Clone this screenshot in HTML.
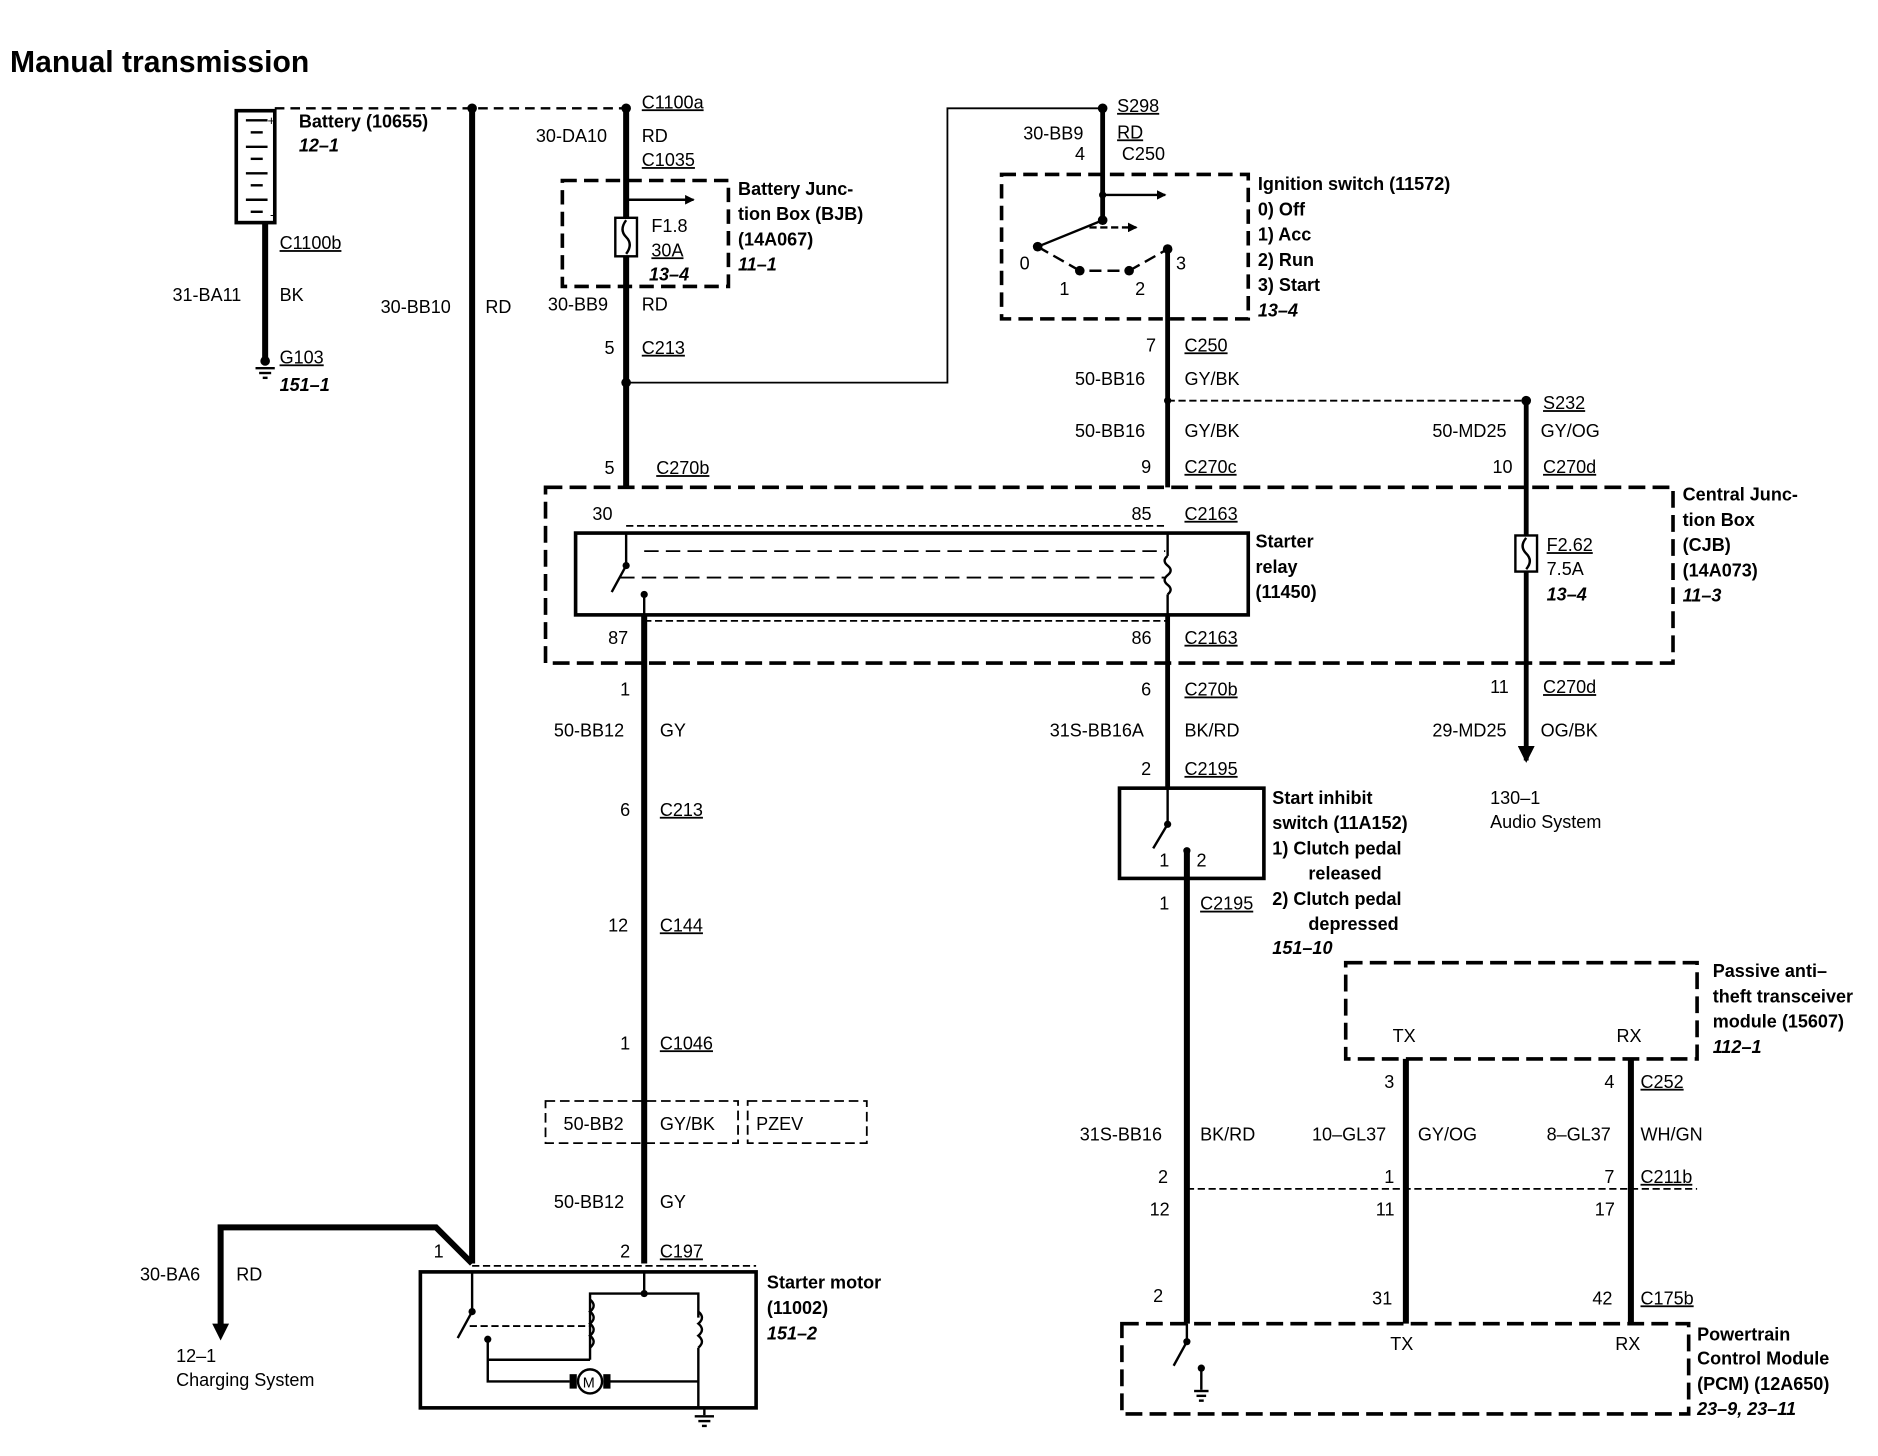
<!DOCTYPE html>
<html><head><meta charset="utf-8">
<style>
html,body{margin:0;padding:0;background:#fff;}
svg{display:block;}
text{font-family:"Liberation Sans",Arial,sans-serif;font-size:15px;fill:#000;}
.b{font-weight:bold;}
.i{font-weight:bold;font-style:italic;}
.t{font-weight:bold;font-size:25px;}
.u{text-decoration:underline;}
</style></head>
<body>
<svg width="1878" height="1456" viewBox="0 0 1560 1210" xmlns="http://www.w3.org/2000/svg">
<defs>
<marker id="ar" markerWidth="8" markerHeight="8" refX="7" refY="4" orient="auto" markerUnits="userSpaceOnUse"><path d="M0,0 L8,4 L0,8 z" fill="#000"/></marker>
<marker id="ab" markerWidth="14" markerHeight="14" refX="12" refY="7" orient="auto" markerUnits="userSpaceOnUse"><path d="M0,0 L14,7 L0,14 z" fill="#000"/></marker>
</defs>
<text x="8" y="60" class="t">Manual transmission</text>

<!-- Battery -->
<rect x="196" y="92" width="32" height="93" fill="none" stroke="#000" stroke-width="3"/>
<g stroke="#000" stroke-width="2">
<line x1="204" y1="100" x2="222" y2="100"/><line x1="208" y1="110" x2="218" y2="110"/>
<line x1="204" y1="122" x2="222" y2="122"/><line x1="208" y1="132" x2="218" y2="132"/>
<line x1="204" y1="144" x2="222" y2="144"/><line x1="208" y1="154" x2="218" y2="154"/>
<line x1="204" y1="166" x2="222" y2="166"/><line x1="208" y1="176" x2="218" y2="176"/>
</g>
<text x="222" y="104" style="font-size:11px">+</text><text x="224" y="182" style="font-size:11px">-</text>
<text x="248" y="106" class="b">Battery (10655)</text>
<text x="248" y="126" class="i">12–1</text>
<line x1="220" y1="185" x2="220" y2="298" stroke="#000" stroke-width="5"/>
<text x="232" y="207" class="u">C1100b</text>
<text x="143" y="250">31-BA11</text><text x="232" y="250">BK</text>
<circle cx="220" cy="300" r="4"/>
<line x1="212" y1="306" x2="228" y2="306" stroke="#000" stroke-width="2"/>
<line x1="215" y1="310" x2="225" y2="310" stroke="#000" stroke-width="2"/>
<line x1="218" y1="314" x2="222" y2="314" stroke="#000" stroke-width="2"/>
<text x="232" y="302" class="u">G103</text>
<text x="232" y="325" class="i">151–1</text>

<!-- top dashed line -->
<line x1="228" y1="90" x2="520" y2="90" stroke="#000" stroke-width="2" stroke-dasharray="8,5"/>
<circle cx="392" cy="90" r="4"/><circle cx="520" cy="90" r="4"/>
<line x1="392" y1="90" x2="392" y2="1050" stroke="#000" stroke-width="5"/>
<text x="316" y="260">30-BB10</text><text x="403" y="260">RD</text>

<!-- BJB -->
<line x1="520" y1="90" x2="520" y2="405" stroke="#000" stroke-width="5"/>
<text x="533" y="90" class="u">C1100a</text>
<text x="445" y="118">30-DA10</text><text x="533" y="118">RD</text>
<text x="533" y="138" class="u">C1035</text>
<rect x="467" y="150" width="138" height="88" fill="none" stroke="#000" stroke-width="3" stroke-dasharray="12,6"/>
<rect x="511" y="181" width="18" height="32" fill="#fff" stroke="#000" stroke-width="2"/>
<path d="M520,183 q-6,8 0,14 q6,6 0,14" fill="none" stroke="#000" stroke-width="2"/>
<line x1="520" y1="166" x2="576" y2="166" stroke="#000" stroke-width="2" marker-end="url(#ar)"/>
<text x="541" y="193">F1.8</text><text x="541" y="213" class="u">30A</text><text x="539" y="233" class="i">13–4</text>
<text x="613" y="162" class="b">Battery Junc-</text>
<text x="613" y="183" class="b">tion Box (BJB)</text>
<text x="613" y="204" class="b">(14A067)</text>
<text x="613" y="225" class="i">11–1</text>
<text x="455" y="258">30-BB9</text><text x="533" y="258">RD</text>
<text x="502" y="294">5</text><text x="533" y="294" class="u">C213</text>
<circle cx="520" cy="318" r="4"/>
<polyline points="520,318 787,318 787,90 916,90" fill="none" stroke="#000" stroke-width="1.5"/>
<circle cx="916" cy="90" r="4"/>
<text x="928" y="93" class="u">S298</text>
<text x="850" y="116">30-BB9</text><text x="928" y="115" class="u">RD</text>
<text x="893" y="133">4</text><text x="932" y="133">C250</text>

<!-- Ignition -->
<line x1="916" y1="90" x2="916" y2="185" stroke="#000" stroke-width="4"/>
<rect x="832" y="145" width="205" height="120" fill="none" stroke="#000" stroke-width="3" stroke-dasharray="12,6"/>
<line x1="916" y1="162" x2="968" y2="162" stroke="#000" stroke-width="2" marker-end="url(#ar)"/>
<circle cx="916" cy="162" r="3"/><circle cx="916" cy="183" r="4"/>
<line x1="916" y1="183" x2="862" y2="205" stroke="#000" stroke-width="2"/>
<line x1="905" y1="189" x2="944" y2="189" stroke="#000" stroke-width="2" stroke-dasharray="6,3" marker-end="url(#ar)"/>
<circle cx="862" cy="205" r="4"/>
<path d="M862,205 L897,225 M905,225 L930,225 M938,225 L970,207" stroke="#000" stroke-width="2" fill="none" stroke-dasharray="10,5"/>
<circle cx="897" cy="225" r="4"/><circle cx="938" cy="225" r="4"/><circle cx="970" cy="207" r="4"/>
<text x="847" y="224">0</text><text x="880" y="245">1</text><text x="943" y="245">2</text><text x="977" y="224">3</text>
<line x1="970" y1="207" x2="970" y2="405" stroke="#000" stroke-width="4"/>
<text x="1045" y="158" class="b">Ignition switch (11572)</text>
<text x="1045" y="179" class="b">0)   Off</text>
<text x="1045" y="200" class="b">1)   Acc</text>
<text x="1045" y="221" class="b">2)   Run</text>
<text x="1045" y="242" class="b">3)   Start</text>
<text x="1045" y="263" class="i">13–4</text>
<text x="952" y="292">7</text><text x="984" y="292" class="u">C250</text>
<text x="893" y="320">50-BB16</text><text x="984" y="320">GY/BK</text>
<line x1="970" y1="333" x2="1268" y2="333" stroke="#000" stroke-width="1.5" stroke-dasharray="6,3"/>
<circle cx="970" cy="333" r="3"/><circle cx="1268" cy="333" r="4"/>
<text x="1282" y="340" class="u">S232</text>
<text x="893" y="363">50-BB16</text><text x="984" y="363">GY/BK</text>
<text x="1190" y="363">50-MD25</text><text x="1280" y="363">GY/OG</text>
<text x="948" y="393">9</text><text x="984" y="393" class="u">C270c</text>
<text x="1240" y="393">10</text><text x="1282" y="393" class="u">C270d</text>
<line x1="1268" y1="333" x2="1268" y2="445" stroke="#000" stroke-width="4"/>
<line x1="1268" y1="475" x2="1268" y2="632" stroke="#000" stroke-width="4" marker-end="url(#ab)"/>
<rect x="1259" y="445" width="18" height="30" fill="#fff" stroke="#000" stroke-width="2"/>
<path d="M1268,447 q-6,7 0,13 q6,6 0,13" fill="none" stroke="#000" stroke-width="2"/>
<text x="1285" y="458" class="u">F2.62</text><text x="1285" y="478">7.5A</text><text x="1285" y="499" class="i">13–4</text>

<!-- CJB -->
<rect x="453" y="405" width="937" height="146" fill="none" stroke="#000" stroke-width="3" stroke-dasharray="14,6"/>
<text x="1398" y="416" class="b">Central Junc-</text>
<text x="1398" y="437" class="b">tion Box</text>
<text x="1398" y="458" class="b">(CJB)</text>
<text x="1398" y="479" class="b">(14A073)</text>
<text x="1398" y="500" class="i">11–3</text>
<text x="502" y="394">5</text><text x="545" y="394" class="u">C270b</text>
<text x="492" y="432">30</text><text x="940" y="432">85</text><text x="984" y="432" class="u">C2163</text>
<line x1="520" y1="437" x2="970" y2="437" stroke="#000" stroke-width="1.5" stroke-dasharray="6,3"/>
<rect x="478" y="443" width="559" height="68" fill="none" stroke="#000" stroke-width="3"/>
<line x1="520" y1="443" x2="520" y2="470" stroke="#000" stroke-width="2"/>
<line x1="520" y1="470" x2="508" y2="492" stroke="#000" stroke-width="2"/>
<circle cx="520" cy="470" r="3"/><circle cx="535" cy="494" r="3"/>
<line x1="535" y1="494" x2="535" y2="511" stroke="#000" stroke-width="2"/>
<line x1="515" y1="480" x2="968" y2="480" stroke="#000" stroke-width="1.5" stroke-dasharray="12,6"/>
<line x1="535" y1="458" x2="968" y2="458" stroke="#000" stroke-width="1.5" stroke-dasharray="12,6"/>
<line x1="970" y1="443" x2="970" y2="462" stroke="#000" stroke-width="2"/>
<path d="M970,462 q-5,4 0,8 q5,4 0,8 q-5,4 0,8 q5,4 0,8" fill="none" stroke="#000" stroke-width="2"/>
<line x1="970" y1="494" x2="970" y2="511" stroke="#000" stroke-width="2"/>
<text x="1043" y="455" class="b">Starter</text>
<text x="1043" y="476" class="b">relay</text>
<text x="1043" y="497" class="b">(11450)</text>
<line x1="535" y1="516" x2="970" y2="516" stroke="#000" stroke-width="1.5" stroke-dasharray="6,3"/>
<text x="505" y="535">87</text><text x="940" y="535">86</text><text x="984" y="535" class="u">C2163</text>

<!-- left main wire -->
<line x1="535" y1="511" x2="535" y2="1050" stroke="#000" stroke-width="5"/>
<text x="515" y="578">1</text>
<text x="460" y="612">50-BB12</text><text x="548" y="612">GY</text>
<text x="515" y="678">6</text><text x="548" y="678" class="u">C213</text>
<text x="505" y="774">12</text><text x="548" y="774" class="u">C144</text>
<text x="515" y="872">1</text><text x="548" y="872" class="u">C1046</text>
<rect x="453" y="915" width="160" height="35" fill="none" stroke="#000" stroke-width="1.5" stroke-dasharray="8,4"/>
<rect x="621" y="915" width="99" height="35" fill="none" stroke="#000" stroke-width="1.5" stroke-dasharray="8,4"/>
<text x="468" y="939">50-BB2</text><text x="548" y="939">GY/BK</text><text x="628" y="939">PZEV</text>
<text x="460" y="1004">50-BB12</text><text x="548" y="1004">GY</text>
<text x="515" y="1045">2</text><text x="548" y="1045" class="u">C197</text>
<text x="360" y="1045">1</text>

<!-- charging -->
<polyline points="392,1050 362,1020 183,1020 183,1105" fill="none" stroke="#000" stroke-width="5"/>
<path d="M176,1100 L190,1100 L183,1114 z" fill="#000"/>
<text x="116" y="1064">30-BA6</text><text x="196" y="1064">RD</text>
<text x="146" y="1132">12–1</text><text x="146" y="1152">Charging System</text>

<!-- starter motor -->
<line x1="392" y1="1052" x2="628" y2="1052" stroke="#000" stroke-width="1.5" stroke-dasharray="6,3"/>
<rect x="349" y="1057" width="279" height="113" fill="none" stroke="#000" stroke-width="3"/>
<line x1="392" y1="1057" x2="392" y2="1090" stroke="#000" stroke-width="2"/>
<line x1="392" y1="1090" x2="380" y2="1112" stroke="#000" stroke-width="2"/>
<circle cx="392" cy="1090" r="3"/><circle cx="405" cy="1113" r="3"/>
<line x1="390" y1="1102" x2="490" y2="1102" stroke="#000" stroke-width="1.5" stroke-dasharray="6,3"/>
<polyline points="405,1113 405,1148 473,1148" fill="none" stroke="#000" stroke-width="2"/>
<line x1="405" y1="1130" x2="490" y2="1130" stroke="#000" stroke-width="2"/>
<line x1="535" y1="1057" x2="535" y2="1075" stroke="#000" stroke-width="2"/>
<circle cx="535" cy="1075" r="3"/>
<polyline points="490,1130 490,1075 580,1075 580,1095" fill="none" stroke="#000" stroke-width="2"/>
<path d="M490,1080 q6,5 0,10 q6,5 0,10 q6,5 0,10 q6,5 0,10" fill="none" stroke="#000" stroke-width="2"/>
<path d="M580,1090 q6,5 0,10 q6,5 0,10 q6,5 0,10" fill="none" stroke="#000" stroke-width="2"/>
<polyline points="580,1120 580,1170" fill="none" stroke="#000" stroke-width="2"/>
<line x1="507" y1="1148" x2="580" y2="1148" stroke="#000" stroke-width="2"/>
<rect x="473" y="1142" width="6" height="12"/><rect x="501" y="1142" width="6" height="12"/>
<circle cx="490" cy="1148" r="10" fill="#fff" stroke="#000" stroke-width="2"/>
<text x="484" y="1153" style="font-size:12px">M</text>
<line x1="585" y1="1170" x2="585" y2="1176" stroke="#000" stroke-width="2"/>
<line x1="577" y1="1177" x2="593" y2="1177" stroke="#000" stroke-width="2"/>
<line x1="580" y1="1181" x2="590" y2="1181" stroke="#000" stroke-width="2"/>
<line x1="583" y1="1185" x2="587" y2="1185" stroke="#000" stroke-width="2"/>
<text x="637" y="1071" class="b">Starter motor</text>
<text x="637" y="1092" class="b">(11002)</text>
<text x="637" y="1113" class="i">151–2</text>

<!-- inhibit -->
<line x1="970" y1="511" x2="970" y2="655" stroke="#000" stroke-width="4"/>
<text x="948" y="578">6</text><text x="984" y="578" class="u">C270b</text>
<text x="872" y="612">31S-BB16A</text><text x="984" y="612">BK/RD</text>
<text x="948" y="644">2</text><text x="984" y="644" class="u">C2195</text>
<rect x="930" y="655" width="120" height="75" fill="none" stroke="#000" stroke-width="3"/>
<line x1="970" y1="655" x2="970" y2="685" stroke="#000" stroke-width="2"/>
<line x1="970" y1="685" x2="958" y2="705" stroke="#000" stroke-width="2"/>
<circle cx="970" cy="685" r="3"/><circle cx="986" cy="707" r="3"/>
<text x="963" y="720">1</text><text x="994" y="720">2</text>
<text x="1057" y="668" class="b">Start inhibit</text>
<text x="1057" y="689" class="b">switch (11A152)</text>
<text x="1057" y="710" class="b">1)   Clutch pedal</text>
<text x="1087" y="731" class="b">released</text>
<text x="1057" y="752" class="b">2)   Clutch pedal</text>
<text x="1087" y="773" class="b">depressed</text>
<text x="1057" y="793" class="i">151–10</text>
<text x="1238" y="576">11</text><text x="1282" y="576" class="u">C270d</text>
<text x="1190" y="612">29-MD25</text><text x="1280" y="612">OG/BK</text>
<text x="1238" y="668">130–1</text><text x="1238" y="688">Audio System</text>

<line x1="986" y1="707" x2="986" y2="1100" stroke="#000" stroke-width="5"/>
<text x="963" y="756">1</text><text x="997" y="756" class="u">C2195</text>

<!-- PATS -->
<rect x="1118" y="800" width="292" height="80" fill="none" stroke="#000" stroke-width="3" stroke-dasharray="14,6"/>
<text x="1423" y="812" class="b">Passive anti–</text>
<text x="1423" y="833" class="b">theft transceiver</text>
<text x="1423" y="854" class="b">module (15607)</text>
<text x="1423" y="875" class="i">112–1</text>
<text x="1157" y="866">TX</text><text x="1343" y="866">RX</text>
<line x1="1168" y1="880" x2="1168" y2="1100" stroke="#000" stroke-width="5"/>
<line x1="1355" y1="880" x2="1355" y2="1100" stroke="#000" stroke-width="5"/>
<text x="1150" y="904">3</text><text x="1333" y="904">4</text><text x="1363" y="904" class="u">C252</text>
<text x="897" y="948">31S-BB16</text><text x="997" y="948">BK/RD</text>
<text x="1090" y="948">10–GL37</text><text x="1178" y="948">GY/OG</text>
<text x="1285" y="948">8–GL37</text><text x="1363" y="948">WH/GN</text>
<text x="962" y="983">2</text><text x="1150" y="983">1</text><text x="1333" y="983">7</text><text x="1363" y="983" class="u">C211b</text>
<line x1="986" y1="988" x2="1410" y2="988" stroke="#000" stroke-width="1.5" stroke-dasharray="6,3"/>
<text x="955" y="1010">12</text><text x="1143" y="1010">11</text><text x="1325" y="1010">17</text>
<text x="958" y="1082">2</text><text x="1140" y="1084">31</text><text x="1323" y="1084">42</text><text x="1363" y="1084" class="u">C175b</text>

<!-- PCM -->
<rect x="932" y="1100" width="471" height="75" fill="none" stroke="#000" stroke-width="3" stroke-dasharray="14,6"/>
<text x="1155" y="1122">TX</text><text x="1342" y="1122">RX</text>
<line x1="986" y1="1100" x2="986" y2="1115" stroke="#000" stroke-width="2"/>
<line x1="986" y1="1115" x2="975" y2="1135" stroke="#000" stroke-width="2"/>
<circle cx="986" cy="1115" r="3"/><circle cx="998" cy="1137" r="3"/>
<line x1="998" y1="1137" x2="998" y2="1155" stroke="#000" stroke-width="2"/>
<line x1="992" y1="1156" x2="1004" y2="1156" stroke="#000" stroke-width="2"/>
<line x1="994" y1="1160" x2="1002" y2="1160" stroke="#000" stroke-width="2"/>
<line x1="996" y1="1164" x2="1000" y2="1164" stroke="#000" stroke-width="2"/>
<text x="1410" y="1114" class="b">Powertrain</text>
<text x="1410" y="1134" class="b">Control Module</text>
<text x="1410" y="1155" class="b">(PCM) (12A650)</text>
<text x="1410" y="1176" class="i">23–9, 23–11</text>
</svg>
</body></html>
